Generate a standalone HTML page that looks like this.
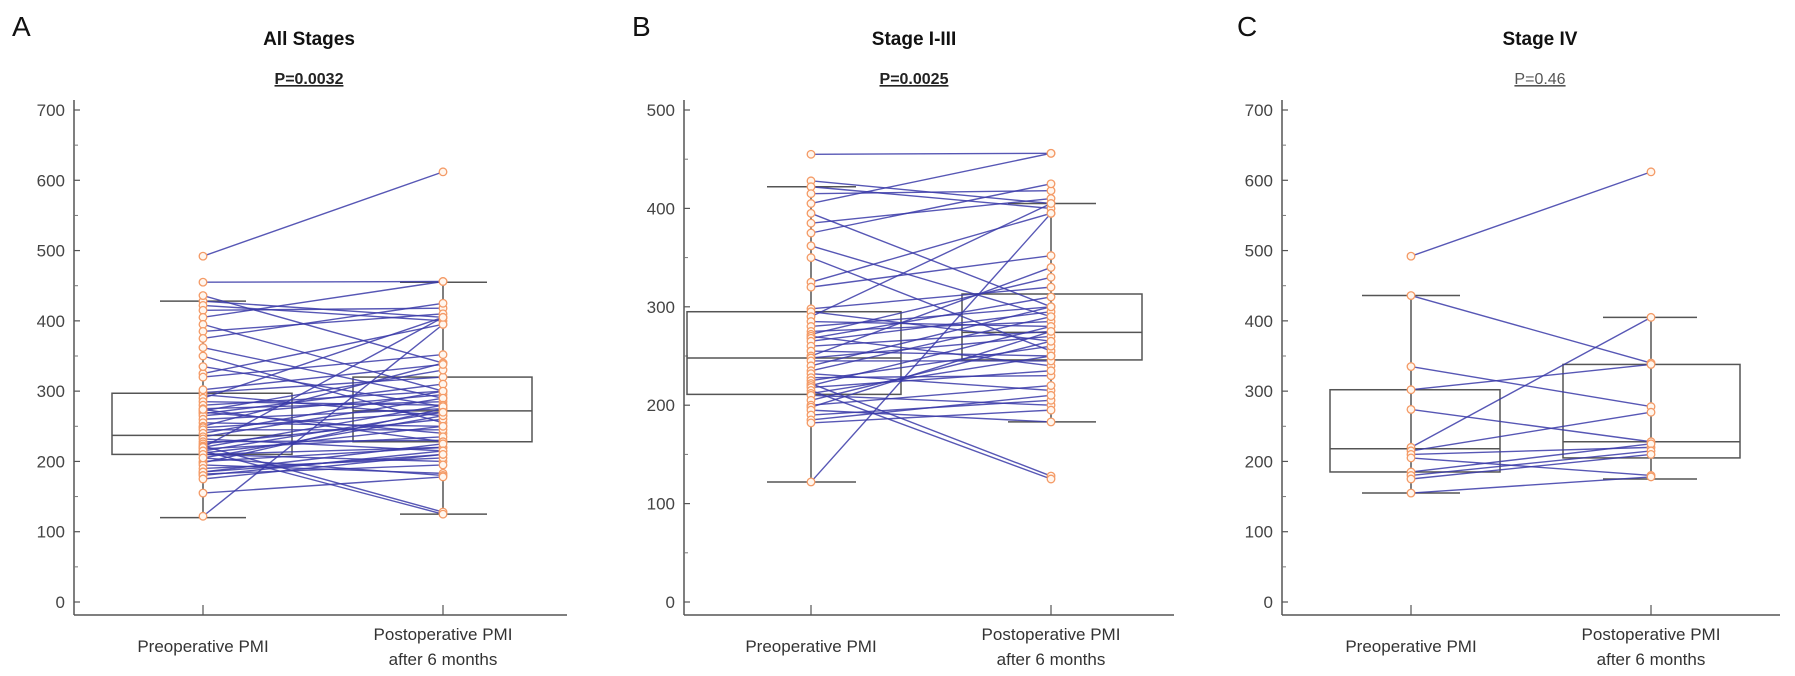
<!DOCTYPE html>
<html><head><meta charset="utf-8"><style>
html,body{margin:0;padding:0;background:#fff;}
svg{display:block;font-family:"Liberation Sans",sans-serif;}
</style></head><body>
<svg id="fig" width="1795" height="676" viewBox="0 0 1795 676"></svg>
<script>
// ---- data ----
const categories = ["Preoperative PMI", "Postoperative PMI|after 6  months"];
const stageIVPre  = [492,436,335,302,274,220,215,210,205,185,180,175,155];
const stageIVPost = [612,340,278,338,228,405,270,220,180,225,215,210,178];
const stageI3Pre  = [455,428,422,415,405,395,385,375,362,350,325,320,298,295,290,285,280,275,272,270,268,265,260,255,250,248,245,240,235,232,228,225,222,220,218,215,212,210,205,200,198,195,190,185,182,122];
const stageI3Post = [456,405,400,418,456,300,410,425,290,255,395,352,320,265,405,280,300,285,330,240,310,295,275,250,340,270,245,300,290,215,230,260,128,280,235,125,250,200,265,220,275,183,205,210,195,395];
// box stats: [whiskerLow, q1, median, q3, whiskerHigh]
const boxAllPre   = [120,210,237,297,428];
const boxAllPost  = [125,228,272,320,455];
const boxI3Pre    = [122,211,248,295,422];
const boxI3Post   = [183,246,274,313,405];
const boxIVPre    = [155,185,218,302,436];
const boxIVPost   = [175,205,228,338,405];
const ticksAC = [0,100,200,300,400,500,600,700];
const ticksB  = [0,100,200,300,400,500];

const NS="http://www.w3.org/2000/svg";
const svg=document.getElementById('fig');
function mk(tag,attrs,parent){const e=document.createElementNS(NS,tag);for(const k in attrs)e.setAttribute(k,attrs[k]);(parent||svg).appendChild(e);return e;}

const panels=[
 {letter:"A",lx:12,title:"All Stages",p:"P=0.0032",bold:true,cx:309,ax:74,px:203,qx:443,xend:567,
  max:700,ticks:ticksAC,pre:stageI3Pre.concat(stageIVPre),post:stageI3Post.concat(stageIVPost),
  bPre:boxAllPre,bPost:boxAllPost,box1:[112,292],box2:[353,532],cap1:[160,246],cap2:[400,487]},
 {letter:"B",lx:632,title:"Stage I-III",p:"P=0.0025",bold:true,cx:914,ax:684,px:811,qx:1051,xend:1174,
  max:500,ticks:ticksB,pre:stageI3Pre,post:stageI3Post,
  bPre:boxI3Pre,bPost:boxI3Post,box1:[687,901],box2:[962,1142],cap1:[767,856],cap2:[1008,1096]},
 {letter:"C",lx:1237,title:"Stage IV",p:"P=0.46",bold:false,cx:1540,ax:1282,px:1411,qx:1651,xend:1780,
  max:700,ticks:ticksAC,pre:stageIVPre,post:stageIVPost,
  bPre:boxIVPre,bPost:boxIVPost,box1:[1330,1500],box2:[1563,1740],cap1:[1362,1460],cap2:[1603,1697]}
];

panels.forEach((P,pi)=>{
  const g=mk('g',{});
  
  
  const y=v=>602-v*(492/P.max);
  let t=mk('text',{x:P.lx,y:36,'font-size':28,fill:'#111'},g);t.textContent=P.letter;
  
  t=mk('text',{x:P.cx,y:45,'font-size':19,'font-weight':'bold','text-anchor':'middle',fill:'#111'},g);t.textContent=P.title;
  
  t=mk('text',{x:P.cx,y:84,'font-size':16,'font-weight':P.bold?'bold':'normal','text-anchor':'middle',fill:P.bold?'#222':'#555','text-decoration':'underline'},g);t.textContent=P.p;
  
  // axes
  let a=mk('line',{x1:P.ax,y1:100,x2:P.ax,y2:615,stroke:'#555','stroke-width':1.5},g);
  
  a=mk('line',{x1:P.ax,y1:615,x2:P.xend,y2:615,stroke:'#555','stroke-width':1.5},g);
  
  P.ticks.forEach((v,i)=>{
    mk('line',{x1:P.ax,y1:y(v),x2:P.ax+6,y2:y(v),stroke:'#555','stroke-width':1.2},g);
    if(i<P.ticks.length-1){const m=(v+P.ticks[i+1])/2;mk('line',{x1:P.ax,y1:y(m),x2:P.ax+4,y2:y(m),stroke:'#777','stroke-width':1},g);}
    const l=mk('text',{x:P.ax-9,y:y(v)+6,'font-size':17,'text-anchor':'end',fill:'#444'},g);l.textContent=v;
    
  });
  [P.px,P.qx].forEach((x,i)=>{
    mk('line',{x1:x,y1:615,x2:x,y2:605,stroke:'#555','stroke-width':1.2},g);
    const parts=categories[i].split('|');
    parts.forEach((s,j)=>{
      const l=mk('text',{x:x,y:(parts.length>1?640+j*25:652),'font-size':17,'text-anchor':'middle',fill:'#333'},g);l.textContent=s;
      
    });
  });
  // boxes
  [[P.bPre,P.box1,P.cap1,P.px],[P.bPost,P.box2,P.cap2,P.qx]].forEach(([b,bx,cap,cx],i)=>{
    const bg=mk('g',{fill:'none',stroke:'#555','stroke-width':1.5},g);
    
    
    mk('line',{x1:cx,y1:y(b[0]),x2:cx,y2:y(b[4])},bg);
    mk('line',{x1:cap[0],y1:y(b[0]),x2:cap[1],y2:y(b[0])},bg);
    mk('line',{x1:cap[0],y1:y(b[4]),x2:cap[1],y2:y(b[4])},bg);
    mk('rect',{x:bx[0],y:y(b[3]),width:bx[1]-bx[0],height:y(b[1])-y(b[3])},bg);
    mk('line',{x1:bx[0],y1:y(b[2]),x2:bx[1],y2:y(b[2])},bg);
  });
  // paired lines
  P.pre.forEach((v,i)=>{
    const l=mk('line',{x1:P.px,y1:y(v),x2:P.qx,y2:y(P.post[i]),stroke:'#3a3aa8','stroke-width':1.4,'stroke-opacity':0.85},g);
    
    
  });
  P.pre.forEach((v,i)=>{
    [[P.px,v],[P.qx,P.post[i]]].forEach(([x,val])=>{
      const c=mk('circle',{cx:x,cy:y(val),r:3.8,fill:'#fff6ee',stroke:'#f49a66','stroke-width':1.3},g);
      
      
    });
  });
});
</script>
</body></html>
